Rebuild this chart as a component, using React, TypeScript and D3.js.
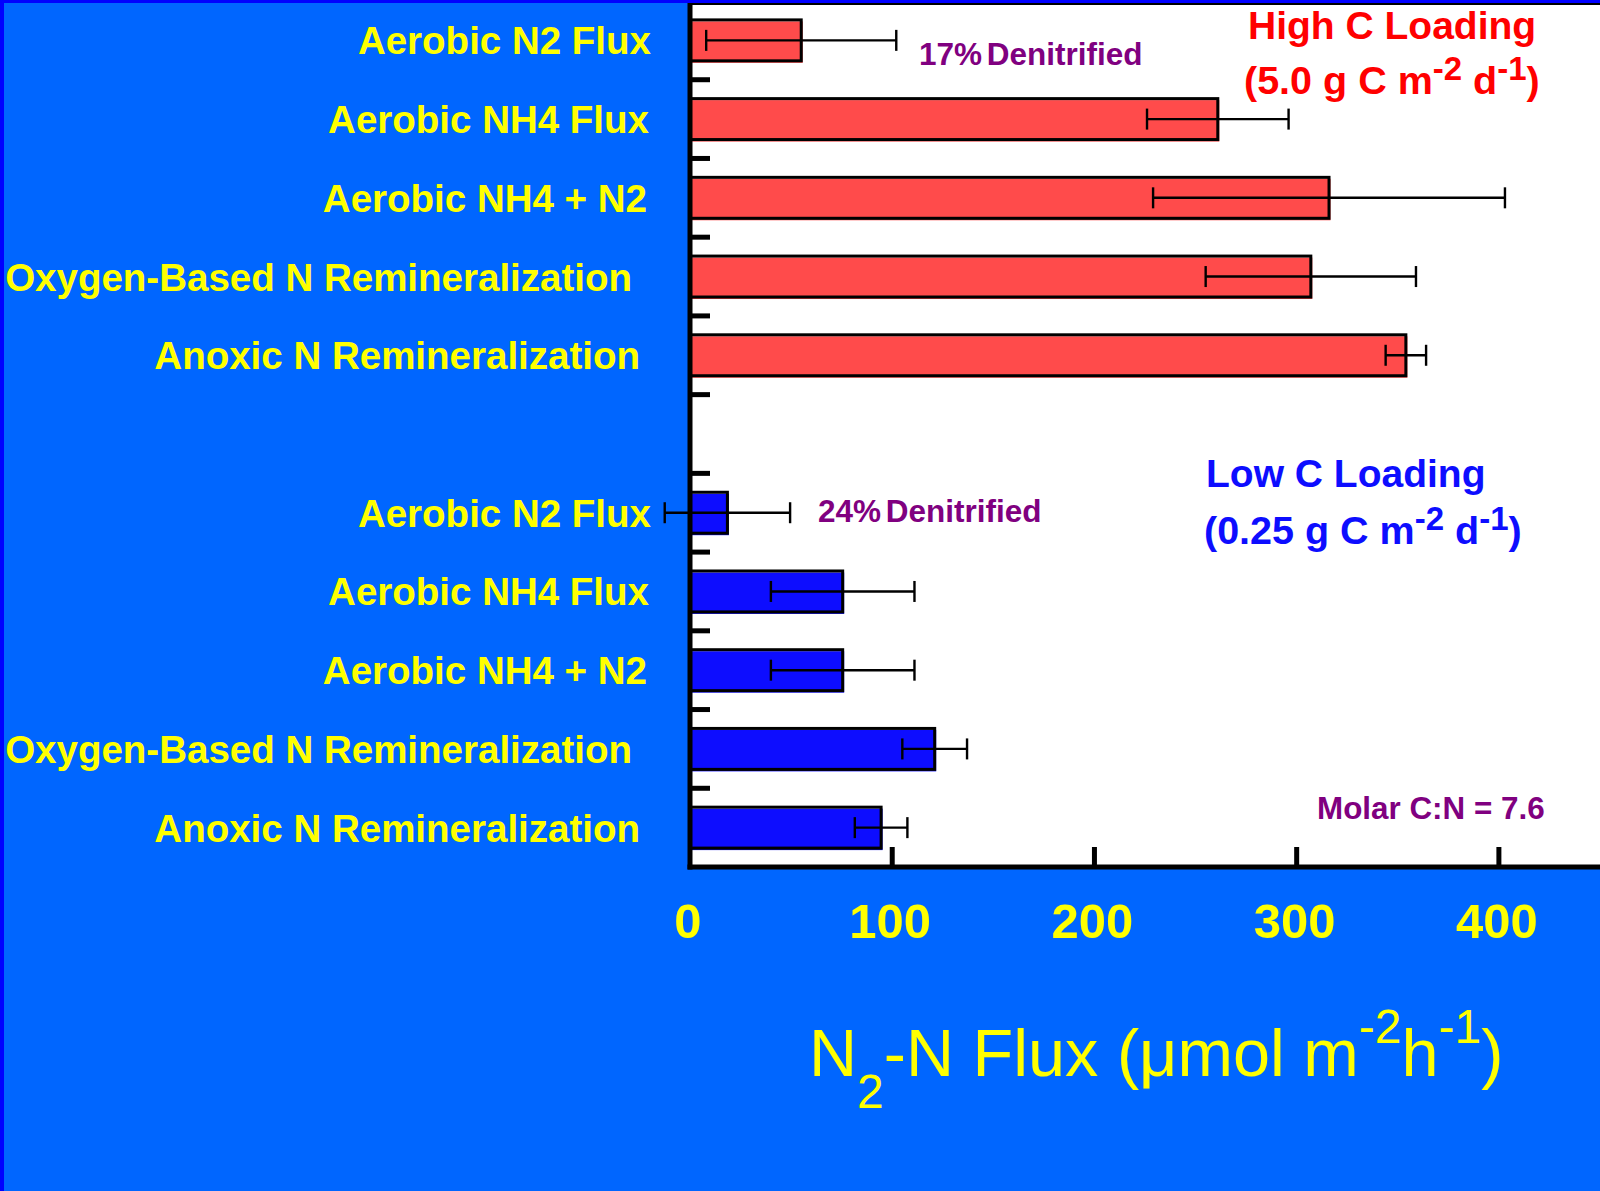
import { useEffect, useRef } from "react";
import * as d3 from "d3";

const categories = [
  "Aerobic N2 Flux",
  "Aerobic NH4 Flux",
  "Aerobic NH4 + N2",
  "Oxygen-Based N Remineralization",
  "Anoxic N Remineralization",
];

// N2-N flux, umol m-2 h-1
const highC = [55, 261, 316, 307, 354];
const highErr = [47, 35, 87, 52, 10];
const lowC = [18.5, 75.5, 75.5, 121, 94.5];
const lowErr = [31, 35.5, 35.5, 16, 13];

const xTicks = [0, 100, 200, 300, 400];

// how far each category label sits left of the axis (labels are not aligned in the original)
const labelGap = [39, 41, 43, 58, 50];

const FONT = "'Liberation Sans', Arial, Helvetica, sans-serif";
const YELLOW = "#FFFF00";
const PURPLE = "#800080";

export default function App() {
  const svgRef = useRef<SVGSVGElement>(null);

  useEffect(() => {
    if (!svgRef.current) return;
    const svg = d3.select(svgRef.current);
    svg.selectAll("*").remove();

    const W = 1600;
    const H = 1191;
    const left = 690;
    const bottom = 867;

    // background
    svg.append("rect").attr("width", W).attr("height", H).attr("fill", "#0066FF");
    svg.append("rect").attr("width", 4).attr("height", H).attr("fill", "#0000FF");
    svg.append("rect").attr("width", W).attr("height", 3).attr("fill", "#0000FF");

    // plot area
    svg
      .append("rect")
      .attr("x", left)
      .attr("y", 3)
      .attr("width", W - left)
      .attr("height", bottom - 3)
      .attr("fill", "#FFFFFF");
    svg
      .append("line")
      .attr("x1", left)
      .attr("x2", W)
      .attr("y1", 4)
      .attr("y2", 4)
      .attr("stroke", "#000")
      .attr("stroke-width", 2);

    const x = d3.scaleLinear().domain([0, 450]).range([left, W]);

    const slots = [
      ...categories.map((_, i) => `high-${i}`),
      "gap",
      ...categories.map((_, i) => `low-${i}`),
    ];
    const y = d3
      .scaleBand()
      .domain(slots)
      .range([1, bottom])
      .paddingInner(0.48)
      .paddingOuter(0.24);

    type Row = { key: string; label: string; value: number; err: number; gap: number; fill: string };
    const rows: Row[] = [
      ...categories.map((c, i) => ({
        key: `high-${i}`,
        label: c,
        value: highC[i],
        err: highErr[i],
        gap: labelGap[i],
        fill: "#FF4B4B",
      })),
      ...categories.map((c, i) => ({
        key: `low-${i}`,
        label: c,
        value: lowC[i],
        err: lowErr[i],
        gap: labelGap[i],
        fill: "#0D0DFF",
      })),
    ];

    const bw = y.bandwidth();

    // bars: fill slightly offset, then black outline
    svg
      .append("g")
      .selectAll("rect")
      .data(rows)
      .join("rect")
      .attr("x", left)
      .attr("y", (d) => y(d.key)! + 1.5)
      .attr("width", (d) => x(d.value) - left + 1.5)
      .attr("height", bw + 0.5)
      .attr("fill", (d) => d.fill);
    svg
      .append("g")
      .selectAll("rect")
      .data(rows)
      .join("rect")
      .attr("x", left)
      .attr("y", (d) => y(d.key)!)
      .attr("width", (d) => x(d.value) - left)
      .attr("height", bw)
      .attr("fill", "none")
      .attr("stroke", "#000")
      .attr("stroke-width", 3);

    // error bars
    const eb = svg.append("g").attr("stroke", "#000").attr("stroke-width", 2.4);
    rows.forEach((d) => {
      const cy = y(d.key)! + bw / 2;
      const x0 = x(d.value - d.err);
      const x1 = x(d.value + d.err);
      eb.append("line").attr("x1", x0).attr("x2", x1).attr("y1", cy).attr("y2", cy);
      eb.append("line").attr("x1", x0).attr("x2", x0).attr("y1", cy - 10.5).attr("y2", cy + 10.5);
      eb.append("line").attr("x1", x1).attr("x2", x1).attr("y1", cy - 10.5).attr("y2", cy + 10.5);
    });

    // category labels
    svg
      .append("g")
      .selectAll("text")
      .data(rows)
      .join("text")
      .attr("x", (d) => left - d.gap)
      .attr("y", (d) => y(d.key)! + bw / 2 + 14)
      .attr("text-anchor", "end")
      .style("font-family", FONT)
      .style("font-weight", "bold")
      .style("font-size", "38.5px")
      .style("fill", YELLOW)
      .text((d) => d.label);

    // y ticks at slot boundaries (inward)
    const [r0] = y.range();
    const bounds = d3.range(1, slots.length).map((i) => r0 + i * y.step());
    svg
      .append("g")
      .selectAll("line")
      .data(bounds)
      .join("line")
      .attr("x1", left)
      .attr("x2", left + 20)
      .attr("y1", (d) => d)
      .attr("y2", (d) => d)
      .attr("stroke", "#000")
      .attr("stroke-width", 5);

    // x ticks (inward) and labels
    svg
      .append("g")
      .selectAll("line")
      .data(xTicks.slice(1))
      .join("line")
      .attr("x1", (d) => x(d))
      .attr("x2", (d) => x(d))
      .attr("y1", bottom)
      .attr("y2", bottom - 20)
      .attr("stroke", "#000")
      .attr("stroke-width", 5);
    svg
      .append("g")
      .selectAll("text")
      .data(xTicks)
      .join("text")
      .attr("x", (d) => x(d) - 2)
      .attr("y", 937.5)
      .attr("text-anchor", "middle")
      .style("font-family", FONT)
      .style("font-weight", "bold")
      .style("font-size", "49px")
      .style("fill", YELLOW)
      .text((d) => d);

    // axes lines
    svg
      .append("line")
      .attr("x1", left)
      .attr("x2", left)
      .attr("y1", 3)
      .attr("y2", bottom + 2.5)
      .attr("stroke", "#000")
      .attr("stroke-width", 5);
    svg
      .append("line")
      .attr("x1", left - 2.5)
      .attr("x2", W)
      .attr("y1", bottom)
      .attr("y2", bottom)
      .attr("stroke", "#000")
      .attr("stroke-width", 5);

    // annotations
    const note = (
      tx: number,
      ty: number,
      size: number,
      color: string,
      parts: [string, "n" | "sup"][],
      supSize = 0,
      supShift = 0,
      wordSpacing = 0
    ) => {
      const t = svg
        .append("text")
        .attr("x", tx)
        .attr("y", ty)
        .style("font-family", FONT)
        .style("font-weight", "bold")
        .style("font-size", `${size}px`)
        .style("word-spacing", `${wordSpacing}px`)
        .style("fill", color);
      let up = false;
      parts.forEach(([s, kind]) => {
        const ts = t.append("tspan").text(s);
        if (kind === "sup") {
          ts.style("font-size", `${supSize}px`).attr("dy", up ? 0 : -supShift);
          up = true;
        } else {
          ts.attr("dy", up ? supShift : 0);
          up = false;
        }
      });
    };

    note(919, 64.5, 31.5, PURPLE, [["17% Denitrified", "n"]], 0, 0, -4);
    note(818, 521.7, 31.5, PURPLE, [["24% Denitrified", "n"]], 0, 0, -4);
    note(1248, 38.5, 39, "#FF0000", [["High C Loading", "n"]]);
    note(
      1244,
      94,
      39.5,
      "#FF0000",
      [
        ["(5.0 g C m", "n"],
        ["-2", "sup"],
        [" d", "n"],
        ["-1", "sup"],
        [")", "n"],
      ],
      33,
      14
    );
    note(1206, 487, 39, "#0D0DFF", [["Low C Loading", "n"]]);
    note(
      1204,
      544,
      39.5,
      "#0D0DFF",
      [
        ["(0.25 g C m", "n"],
        ["-2", "sup"],
        [" d", "n"],
        ["-1", "sup"],
        [")", "n"],
      ],
      33,
      14
    );
    note(1317, 819.3, 31.4, PURPLE, [["Molar C:N = 7.6", "n"]]);

    // x axis title
    const title = svg
      .append("text")
      .attr("x", 809)
      .attr("y", 1076)
      .style("font-family", FONT)
      .style("font-size", "66.6px")
      .style("fill", YELLOW);
    title.append("tspan").text("N");
    title.append("tspan").attr("dy", 32).style("font-size", "48px").text("2");
    title.append("tspan").attr("dy", -32).text("-N Flux (\u03BCmol m");
    title.append("tspan").attr("dy", -33).style("font-size", "48px").text("-2");
    title.append("tspan").attr("dy", 33).text("h");
    title.append("tspan").attr("dy", -33).style("font-size", "48px").text("-1");
    title.append("tspan").attr("dy", 33).text(")");
  }, []);

  return (
    <svg
      ref={svgRef}
      width={1600}
      height={1191}
      style={{ position: "absolute", left: 0, top: 0, display: "block" }}
    />
  );
}
